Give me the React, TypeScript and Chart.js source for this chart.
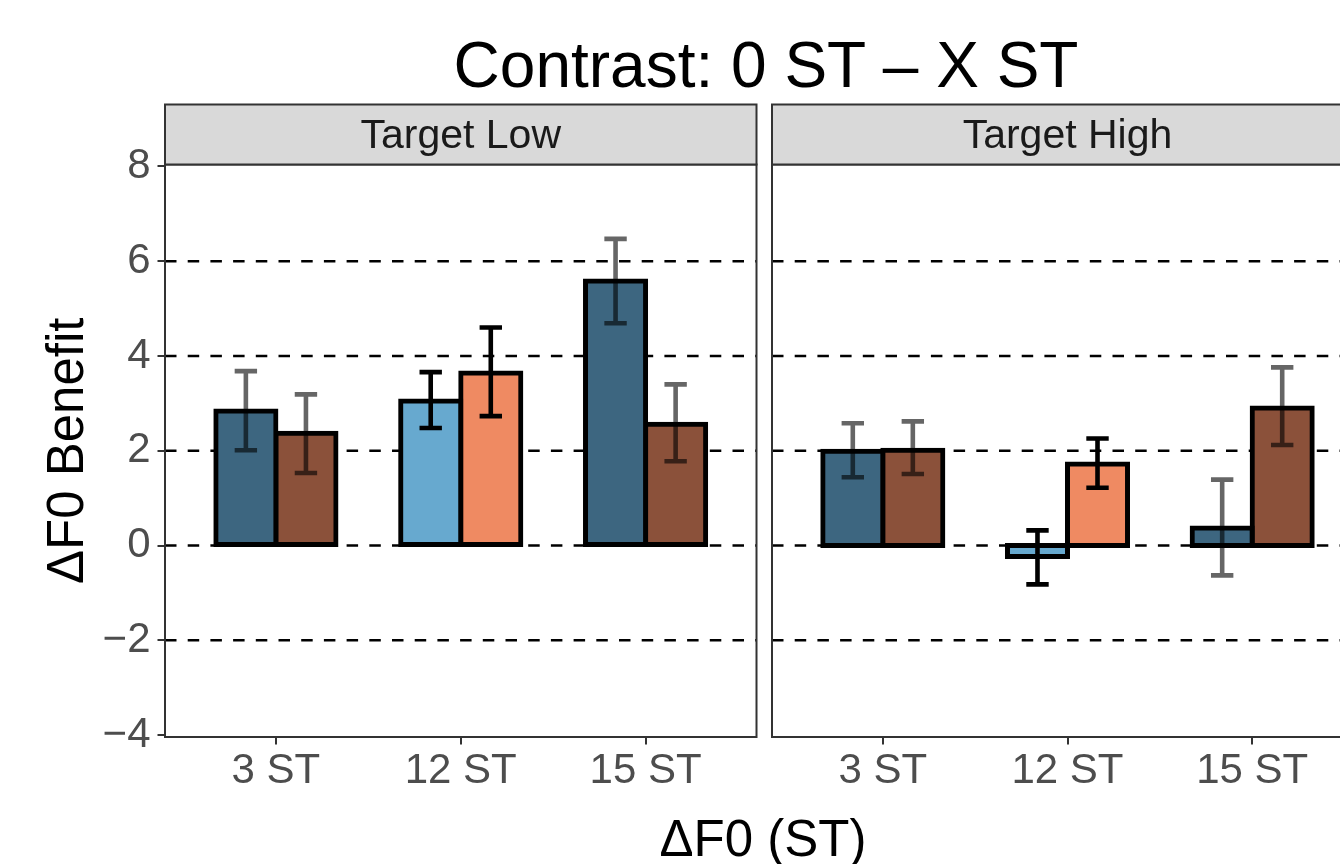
import React, { useEffect, useRef } from "react";
import { Chart, registerables } from "chart.js";

Chart.register(...registerables);

// ---------------- data ----------------
const CATEGORIES = ["3 ST", "12 ST", "15 ST"];
const CAT_POS = [1, 2, 3];
const Y_TICKS = [-4, -2, 0, 2, 4, 6, 8];
const REF_LINES = [-2, 0, 2, 4, 6];
const PANEL_TITLES = ["Target Low", "Target High"];

// Target Low
const LOW_A = [2.84, 3.05, 5.58];
const LOW_A_LO = [2.01, 2.48, 4.69];
const LOW_A_HI = [3.68, 3.66, 6.47];
const LOW_B = [2.37, 3.64, 2.56];
const LOW_B_LO = [1.53, 2.73, 1.78];
const LOW_B_HI = [3.19, 4.6, 3.4];

// Target High
const HIGH_A = [1.99, -0.23, 0.37];
const HIGH_A_LO = [1.44, -0.82, -0.63];
const HIGH_A_HI = [2.58, 0.32, 1.39];
const HIGH_B = [2.01, 1.72, 2.9];
const HIGH_B_LO = [1.51, 1.22, 2.12];
const HIGH_B_HI = [2.62, 2.26, 3.76];

// ---------------- styles ----------------
const FONT = '"Liberation Sans", Arial, Helvetica, sans-serif';
const COLORS_A = ["#3D6680", "#67A9CF", "#3D6680"];
const COLORS_B = ["#8B513A", "#EF8A62", "#8B513A"];
const ERR_COLORS = ["rgba(0,0,0,0.6)", "#000000", "rgba(0,0,0,0.6)"];

type PanelSpec = {
  title: string;
  a: number[]; aLo: number[]; aHi: number[];
  b: number[]; bLo: number[]; bHi: number[];
  showY: boolean;
  padding: { left: number; right: number; top: number; bottom: number };
};

function makeConfig(p: PanelSpec): any {
  const errs = [
    { lo: p.aLo, hi: p.aHi },
    { lo: p.bLo, hi: p.bHi },
  ];
  const decor = {
    id: "panelDecor",
    beforeDatasetsDraw(chart: any) {
      const { ctx, chartArea } = chart;
      const ys = chart.scales.y;
      ctx.save();
      ctx.beginPath();
      ctx.rect(chartArea.left, chartArea.top, chartArea.right - chartArea.left, chartArea.bottom - chartArea.top);
      ctx.clip();
      ctx.strokeStyle = "#000";
      ctx.lineWidth = 2.6;
      ctx.setLineDash([11.5, 11.2]);
      REF_LINES.forEach((v) => {
        const y = ys.getPixelForValue(v);
        ctx.beginPath();
        ctx.moveTo(chartArea.left, y);
        ctx.lineTo(chartArea.right, y);
        ctx.stroke();
      });
      ctx.restore();
    },
    afterDatasetsDraw(chart: any) {
      const { ctx } = chart;
      const ys = chart.scales.y;
      ctx.save();
      ctx.lineCap = "butt";
      ctx.lineJoin = "miter";
      errs.forEach((e, di) => {
        const meta = chart.getDatasetMeta(di);
        meta.data.forEach((el: any, j: number) => {
          const x = el.x;
          const top = ys.getPixelForValue(e.hi[j]);
          const bot = ys.getPixelForValue(e.lo[j]);
          const hw = 11.2;
          ctx.strokeStyle = ERR_COLORS[j];
          ctx.lineWidth = 4.6;
          ctx.beginPath();
          ctx.moveTo(x - hw, top);
          ctx.lineTo(x + hw, top);
          ctx.moveTo(x, top);
          ctx.lineTo(x, bot);
          ctx.moveTo(x - hw, bot);
          ctx.lineTo(x + hw, bot);
          ctx.stroke();
        });
      });
      ctx.restore();
    },
    afterDraw(chart: any) {
      const { ctx, chartArea } = chart;
      const stripH = 60;
      ctx.save();
      // panel border
      ctx.strokeStyle = "#333333";
      ctx.lineWidth = 2;
      ctx.strokeRect(chartArea.left, chartArea.top, chartArea.right - chartArea.left, chartArea.bottom - chartArea.top);
      // strip
      const st = chartArea.top - stripH;
      ctx.fillStyle = "#D9D9D9";
      ctx.fillRect(chartArea.left, st, chartArea.right - chartArea.left, stripH);
      ctx.strokeRect(chartArea.left, st, chartArea.right - chartArea.left, stripH);
      ctx.fillStyle = "#1A1A1A";
      ctx.font = `41px ${FONT}`;
      ctx.textAlign = "center";
      ctx.textBaseline = "middle";
      ctx.fillText(p.title, (chartArea.left + chartArea.right) / 2, st + stripH / 2 + 2);
      ctx.restore();
    },
  };

  return {
    type: "bar",
    data: {
      datasets: [
        {
          data: p.a.map((y, i) => ({ x: CAT_POS[i], y })),
          backgroundColor: COLORS_A,
        },
        {
          data: p.b.map((y, i) => ({ x: CAT_POS[i], y })),
          backgroundColor: COLORS_B,
        },
      ].map((d) => ({
        ...d,
        borderColor: "#000000",
        borderWidth: 5,
        inflateAmount: 2.5,
        borderSkipped: false,
        categoryPercentage: 0.65,
        barPercentage: 1,
      })),
    },
    options: {
      responsive: false,
      animation: false,
      devicePixelRatio: 1,
      layout: { padding: p.padding },
      plugins: { legend: { display: false }, tooltip: { enabled: false }, title: { display: false } },
      scales: {
        x: {
          type: "linear",
          min: 0.4,
          max: 3.6,
          offset: false,
          afterBuildTicks: (s: any) => {
            s.ticks = CAT_POS.map((v) => ({ value: v }));
          },
          afterFit: (s: any) => {
            s.height = 127;
          },
          ticks: {
            callback: (v: any) => {
              const i = CAT_POS.indexOf(Number(v));
              return i >= 0 ? CATEGORIES[i] : "";
            },
            font: { family: FONT, size: 42 },
            color: "#4D4D4D",
            padding: 2,
            maxRotation: 0,
            autoSkip: false,
          },
          grid: { display: true, offset: false, drawOnChartArea: false, drawTicks: true, tickLength: 7.5, color: "#333333", lineWidth: 2 },
          border: { display: false },
        },
        y: {
          type: "linear",
          display: p.showY,
          min: -4.04,
          max: 8.04,
          afterBuildTicks: (s: any) => {
            s.ticks = Y_TICKS.map((v) => ({ value: v }));
          },
          afterFit: (s: any) => {
            if (p.showY) s.width = 165 - p.padding.left;
          },
          ticks: {
            callback: (v: any) => (Number(v) < 0 ? "\u2212" + Math.abs(Number(v)) : String(v)),
            font: { family: FONT, size: 42 },
            color: "#4D4D4D",
            padding: 7,
          },
          grid: { display: true, drawOnChartArea: false, drawTicks: true, tickLength: 7.5, color: "#333333", lineWidth: 2 },
          border: { display: false },
          title: {
            display: p.showY,
            text: "\u0394F0 Benefit",
            font: { family: FONT, size: 51 },
            color: "#000000",
            padding: { top: 38, bottom: 0 },
          },
        },
      },
    },
    plugins: [decor],
  };
}

function Panel(props: { spec: PanelSpec; left: number; width: number }) {
  const ref = useRef<HTMLCanvasElement | null>(null);
  useEffect(() => {
    if (!ref.current) return;
    const chart = new Chart(ref.current, makeConfig(props.spec));
    return () => chart.destroy();
  }, []);
  return (
    <canvas
      ref={ref}
      width={props.width}
      height={864}
      style={{ position: "absolute", left: props.left, top: 0, width: props.width, height: 864, display: "block" }}
    />
  );
}

export default function App() {
  const lowSpec: PanelSpec = {
    title: PANEL_TITLES[0],
    a: LOW_A, aLo: LOW_A_LO, aHi: LOW_A_HI,
    b: LOW_B, bLo: LOW_B_LO, bHi: LOW_B_HI,
    showY: true,
    padding: { left: 0, right: 3.5, top: 164.5, bottom: 0 },
  };
  const highSpec: PanelSpec = {
    title: PANEL_TITLES[1],
    a: HIGH_A, aLo: HIGH_A_LO, aHi: HIGH_A_HI,
    b: HIGH_B, bLo: HIGH_B_LO, bHi: HIGH_B_HI,
    showY: false,
    padding: { left: 4, right: 5, top: 164.5, bottom: 0 },
  };
  return (
    <div
      style={{
        position: "absolute",
        left: 0,
        top: 0,
        width: 1340,
        height: 864,
        overflow: "hidden",
        background: "#FFFFFF",
        fontFamily: FONT,
      }}
    >
      <Panel spec={lowSpec} left={0} width={760} />
      <Panel spec={highSpec} left={768} width={600} />
      <div
        style={{
          position: "absolute",
          left: 166,
          width: 1200,
          top: 33,
          fontSize: 64,
          lineHeight: "64px",
          textAlign: "center",
          color: "#000000",
          whiteSpace: "nowrap",
        }}
      >
        Contrast: 0 ST – X ST
      </div>
      <div
        style={{
          position: "absolute",
          left: 163,
          width: 1200,
          top: 813,
          fontSize: 51,
          lineHeight: "51px",
          textAlign: "center",
          color: "#000000",
          whiteSpace: "nowrap",
        }}
      >
        ΔF0 (ST)
      </div>
    </div>
  );
}
